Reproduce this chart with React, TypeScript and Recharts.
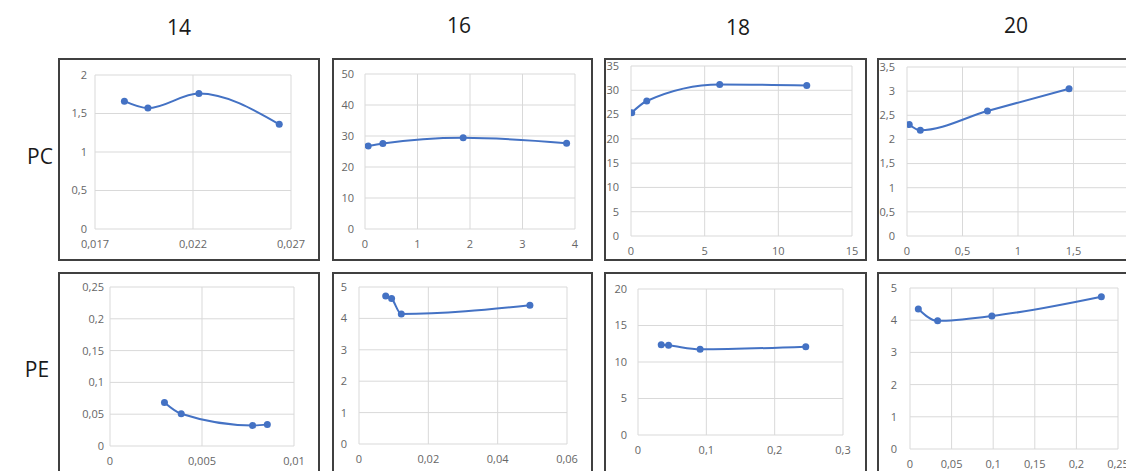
import React from 'react';
import { ComposedChart, Line, XAxis, YAxis, CartesianGrid } from 'recharts';

// column / row captions
const columnLabels = ['14', '16', '18', '20'];
const rowLabels = ['PC', 'PE'];

// PC row
const pc14X = [0.0185, 0.0197, 0.0223, 0.0264];
const pc14Y = [1.66, 1.57, 1.76, 1.36];
const pc14XTicks = [0.017, 0.022, 0.027];
const pc14YTicks = [0, 0.5, 1, 1.5, 2];

const pc16X = [0.06, 0.34, 1.87, 3.84];
const pc16Y = [26.8, 27.6, 29.4, 27.7];
const pc16XTicks = [0, 1, 2, 3, 4];
const pc16YTicks = [0, 10, 20, 30, 40, 50];

const pc18X = [0.05, 1.07, 6.02, 11.93];
const pc18Y = [25.4, 27.8, 31.2, 31.0];
const pc18XTicks = [0, 5, 10, 15];
const pc18YTicks = [0, 5, 10, 15, 20, 25, 30, 35];

const pc20X = [0.02, 0.12, 0.725, 1.46];
const pc20Y = [2.31, 2.19, 2.59, 3.05];
const pc20XTicks = [0, 0.5, 1, 1.5, 2];
const pc20YTicks = [0, 0.5, 1, 1.5, 2, 2.5, 3, 3.5];

// PE row
const pe14X = [0.00296, 0.00387, 0.00775, 0.00855];
const pe14Y = [0.0685, 0.0507, 0.0324, 0.034];
const pe14XTicks = [0, 0.005, 0.01];
const pe14YTicks = [0, 0.05, 0.1, 0.15, 0.2, 0.25];

const pe16X = [0.0077, 0.0094, 0.0122, 0.0493];
const pe16Y = [4.71, 4.63, 4.14, 4.42];
const pe16XTicks = [0, 0.02, 0.04, 0.06];
const pe16YTicks = [0, 1, 2, 3, 4, 5];

const pe18X = [0.034, 0.0447, 0.0909, 0.2455];
const pe18Y = [12.37, 12.28, 11.74, 12.1];
const pe18XTicks = [0, 0.1, 0.2, 0.3];
const pe18YTicks = [0, 5, 10, 15, 20];

const pe20X = [0.01, 0.0332, 0.0984, 0.23];
const pe20Y = [4.35, 3.98, 4.13, 4.73];
const pe20XTicks = [0, 0.05, 0.1, 0.15, 0.2, 0.25];
const pe20YTicks = [0, 1, 2, 3, 4, 5];

const BLUE = '#4472C4';
const TICK_FONT = '"Open Sans", "Liberation Sans", sans-serif';
const fmt = (v: number) => String(v).replace('.', ',');

// box = outer frame, plot = inner plot rect (page coordinates)
const panels = [
  { xs: pc14X, ys: pc14Y, xt: pc14XTicks, yt: pc14YTicks, box: { x: 58, y: 58, w: 262, h: 203 }, plot: { l: 95, t: 75, r: 291, b: 229 }, yGap: 8 },
  { xs: pc16X, ys: pc16Y, xt: pc16XTicks, yt: pc16YTicks, box: { x: 332, y: 58, w: 261, h: 203 }, plot: { l: 365, t: 74, r: 575, b: 229 }, yGap: 11 },
  { xs: pc18X, ys: pc18Y, xt: pc18XTicks, yt: pc18YTicks, box: { x: 604, y: 58, w: 263, h: 203 }, plot: { l: 631, t: 66, r: 852, b: 236 }, yGap: 12 },
  { xs: pc20X, ys: pc20Y, xt: pc20XTicks, yt: pc20YTicks, box: { x: 877, y: 58, w: 262, h: 203 }, plot: { l: 907, t: 67, r: 1129, b: 236 }, yGap: 12 },
  { xs: pe14X, ys: pe14Y, xt: pe14XTicks, yt: pe14YTicks, box: { x: 58, y: 272, w: 262, h: 203 }, plot: { l: 110, t: 287, r: 294, b: 446 }, yGap: 6 },
  { xs: pe16X, ys: pe16Y, xt: pe16XTicks, yt: pe16YTicks, box: { x: 332, y: 272, w: 261, h: 203 }, plot: { l: 359, t: 287, r: 567, b: 444 }, yGap: 12 },
  { xs: pe18X, ys: pe18Y, xt: pe18XTicks, yt: pe18YTicks, box: { x: 604, y: 272, w: 263, h: 203 }, plot: { l: 638, t: 289, r: 843, b: 435 }, yGap: 11 },
  { xs: pe20X, ys: pe20Y, xt: pe20XTicks, yt: pe20YTicks, box: { x: 877, y: 272, w: 262, h: 203 }, plot: { l: 910, t: 288, r: 1118, b: 449 }, yGap: 13 },
];

const headerPos = [
  { cx: 179, top: 17 },
  { cx: 459, top: 15 },
  { cx: 738, top: 17 },
  { cx: 1016, top: 15 },
];
const rowPos = [
  { cx: 40, top: 146 },
  { cx: 37, top: 359 },
];

const Panel = ({ p }: { p: (typeof panels)[number] }) => {
  const chartW = p.box.w - 4;
  const chartH = p.box.h - 4;
  const ox = p.box.x + 2;
  const oy = p.box.y + 2;
  const data = p.xs.map((x, i) => ({ x, y: p.ys[i] }));
  const tick = { fontSize: 11, fill: '#666', fontFamily: TICK_FONT };

  return (
    <div
      style={{
        position: 'absolute',
        left: p.box.x,
        top: p.box.y,
        width: p.box.w,
        height: p.box.h,
        border: '2px solid #404040',
        boxSizing: 'border-box',
        background: '#fff',
      }}
    >
      <ComposedChart
        width={chartW}
        height={chartH}
        data={data}
        margin={{ top: p.plot.t - oy, right: ox + chartW - p.plot.r, bottom: 0, left: 0 }}
      >
        <CartesianGrid stroke="#d9d9d9" strokeWidth={1} />
        <XAxis
          type="number"
          dataKey="x"
          domain={[p.xt[0], p.xt[p.xt.length - 1]]}
          ticks={p.xt}
          interval={0}
          allowDataOverflow
          axisLine={false}
          tickLine={false}
          tickSize={0}
          tickMargin={11}
          height={oy + chartH - p.plot.b}
          tick={tick}
          tickFormatter={fmt}
        />
        <YAxis
          type="number"
          dataKey="y"
          domain={[p.yt[0], p.yt[p.yt.length - 1]]}
          ticks={p.yt}
          interval={0}
          allowDataOverflow
          axisLine={false}
          tickLine={false}
          tickSize={0}
          tickMargin={p.yGap}
          width={p.plot.l - ox}
          tick={tick}
          tickFormatter={fmt}
        />
        <Line
          type="monotone"
          dataKey="y"
          stroke={BLUE}
          strokeWidth={2}
          dot={{ r: 3.5, fill: BLUE, stroke: BLUE, strokeWidth: 0 }}
          activeDot={false}
          isAnimationActive={false}
        />
      </ComposedChart>
    </div>
  );
};

const labelStyle = {
  position: 'absolute' as const,
  width: 60,
  textAlign: 'center' as const,
  fontFamily: '"Open Sans", sans-serif',
  fontSize: 21,
  lineHeight: 1,
  color: '#1a1a1a',
};

export default function App() {
  return (
    <div
      style={{
        position: 'absolute',
        left: 0,
        top: 0,
        width: 1126,
        height: 471,
        overflow: 'hidden',
        background: '#fff',
      }}
    >
      {columnLabels.map((c, i) => (
        <div key={c} style={{ ...labelStyle, left: headerPos[i].cx - 30, top: headerPos[i].top }}>
          {c}
        </div>
      ))}
      {rowLabels.map((r, i) => (
        <div key={r} style={{ ...labelStyle, left: rowPos[i].cx - 30, top: rowPos[i].top }}>
          {r}
        </div>
      ))}
      {panels.map((p, i) => (
        <Panel key={i} p={p} />
      ))}
    </div>
  );
}
